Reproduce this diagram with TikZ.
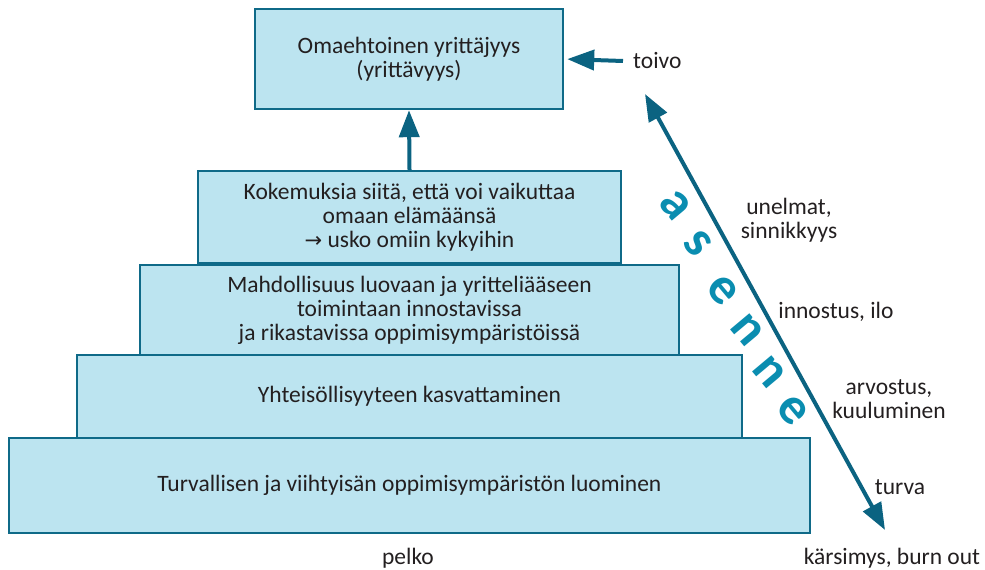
\documentclass[tikz,border=0pt]{standalone}
\usepackage{fontspec}
\setmainfont{Carlito}
\newfontfamily\symbolfont{DejaVu Sans}
\usetikzlibrary{arrows.meta}
\definecolor{boxfill}{HTML}{BCE4F0}
\definecolor{boxline}{HTML}{0F6A88}
\definecolor{arrowcol}{HTML}{0B6381}
\definecolor{lettercol}{HTML}{0A8DB0}
\definecolor{txt}{HTML}{231F20}
\tikzset{
  level/.style={draw=boxline, line width=2.4pt, fill=boxfill, inner sep=0pt,
    align=center, text=txt, font=\fontsize{23.5}{24}\selectfont},
  label/.style={inner sep=0pt, align=center, text=txt, font=\fontsize{23.5}{24}\selectfont},
  arr/.style={draw=arrowcol, line width=4pt,
    -{Triangle[width=20pt,length=27pt]}},
  letter/.style={inner sep=0pt, text=lettercol, rotate=-50,
    font=\fontsize{52}{52}\selectfont\bfseries}
}
\begin{document}
\begin{tikzpicture}[x=1pt,y=-1pt]
\useasboundingbox (0,0) rectangle (985,570);

% pyramid levels, bottom to top
\node[level, minimum width=801pt, minimum height=95pt] (b5) at (409.5,485.5)
  {Turvallisen ja viihtyisän oppimisympäristön luominen};
\node[level, minimum width=665pt, minimum height=83pt] (b4) at (409.5,396.5)
  {Yhteisöllisyyteen kasvattaminen};
\node[level, minimum width=539pt, minimum height=90pt] (b3) at (409.5,310)
  {Mahdollisuus luovaan ja yritteliääseen\\toimintaan innostavissa\\ja rikastavissa oppimisympäristöissä};
\node[level, minimum width=423pt, minimum height=92pt] (b2) at (409.5,217)
  {Kokemuksia siitä, että voi vaikuttaa\\omaan elämäänsä\\{\symbolfont\fontsize{21}{24}\selectfont →} usko omiin kykyihin};
\node[level, minimum width=308pt, minimum height=100pt] (top) at (409,59)
  {Omaehtoinen yrittäjyys\\(yrittävyys)};

% arrow into the top box
\draw[arr] (b2.north) -- (top.south);

% hope arrow
\node[label, anchor=west] (toivo) at (633,61) {toivo};
\draw[arr, shorten >=3pt] ([xshift=-10pt]toivo.west) -- (top.east);

% attitude axis
\coordinate (dtop) at (645,94);
\coordinate (dbot) at (885,530);
\draw[draw=arrowcol, line width=4pt,
  {Triangle[width=20pt,length=27pt]}-{Triangle[width=20pt,length=27pt]}] (dtop) -- (dbot);

% letters along the axis
\node[letter] (l1) at (675,205) {a};
\node[letter] (l2) at (698,243) {s};
\node[letter] (l3) at (723,290) {e};
\node[letter] (l4) at (747,330) {n};
\node[letter] (l5) at (769,372) {n};
\node[letter] (l6) at (793,410) {e};

% labels beside the axis
\node[label] (unelmat) at (789,220) {unelmat,\\sinnikkyys};
\node[label] (innostus) at (836,312) {innostus, ilo};
\node[label] (arvostus) at (889,399) {arvostus,\\kuuluminen};
\node[label] (turva) at (900,487) {turva};
\node[label] (karsimys) at (892,558) {kärsimys, burn out};
\node[label] (pelko) at (408,558) {pelko};
\end{tikzpicture}
\end{document}
